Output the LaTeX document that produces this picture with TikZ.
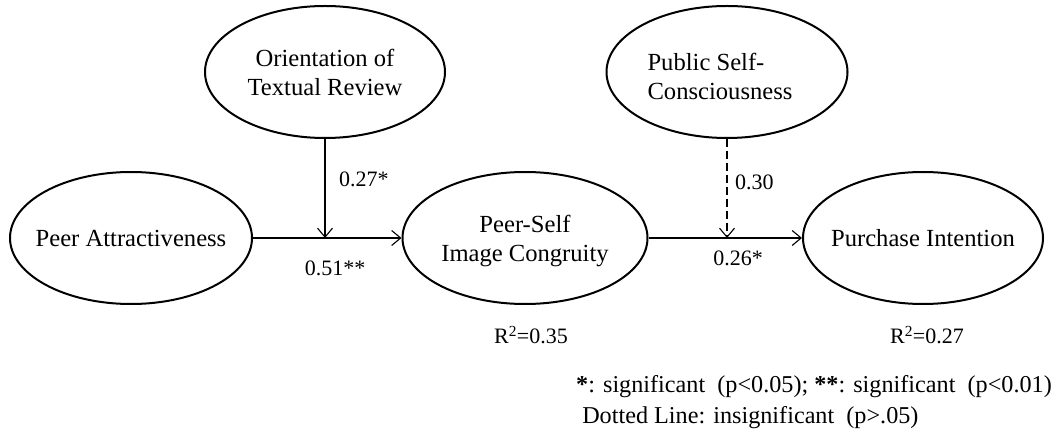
\documentclass[tikz,border=0pt]{standalone}
\usepackage{fontspec}
\setmainfont{Liberation Serif}
\usetikzlibrary{shapes.geometric,arrows.meta}
\tikzset{
  ell/.style={draw, line width=2pt, ellipse, inner sep=0pt, minimum width=240pt, minimum height=132pt},
  etext/.style={font=\fontsize{24.6}{29}\selectfont, align=center, inner sep=0pt},
  lab/.style={font=\fontsize{22}{26}\selectfont, inner sep=0pt},
  arr/.style={line width=1.1pt, -{Straight Barb[length=9pt,width=15pt,line width=1.1pt]}},
  darr/.style={arr, dash pattern=on 8pt off 4pt},
}
\begin{document}
\begin{tikzpicture}[x=1pt,y=-1pt]
\useasboundingbox (0,0) rectangle (1057,438);
\node[ell, minimum width=242pt, label={[etext]center:Peer Attractiveness}] (pa) at (131,238) {};
\node[ell, label={[etext]center:Orientation of\\Textual Review}] (otr) at (325,72) {};
\node[ell, minimum width=245pt, label={[etext, yshift=-3pt]center:Peer-Self\\Image Congruity}] (psic) at (525,238) {};
\node[ell, minimum width=241pt, label={[etext, align=left, xshift=-7pt, yshift=-4pt]center:Public Self-\\Consciousness}] (psc) at (727,72) {};
\node[ell, label={[etext]center:Purchase Intention}] (pi) at (923,238) {};

\draw[arr] (pa.east) -- (psic.west);
\draw[arr] (otr.south) -- (otr.south |- pa.east);
\draw[arr] (psic.east) -- (pi.west);
\draw[darr] (psc.south) -- (psc.south |- psic.east);

\node[lab, anchor=west] (l1) at (339,179) {0.27*};
\node[lab] (l2) at (335,268) {0.51**};
\node[lab, anchor=west] (l3) at (735,182) {0.30};
\node[lab] (l4) at (738,258) {0.26*};
\node[lab] (r1) at (531,335) {R\textsuperscript{2}=0.35};
\node[lab] (r2) at (927,335) {R\textsuperscript{2}=0.27};

\node[font=\fontsize{24.2}{31}\selectfont, align=left, anchor=north west, inner sep=0pt] (leg) at (576,375)
  {\textbf{*}: significant\ \ (p<0.05); \textbf{**}: significant\ \ (p<0.01)\\
   \ Dotted Line: insignificant\ \ (p>.05)};
\end{tikzpicture}
\end{document}
